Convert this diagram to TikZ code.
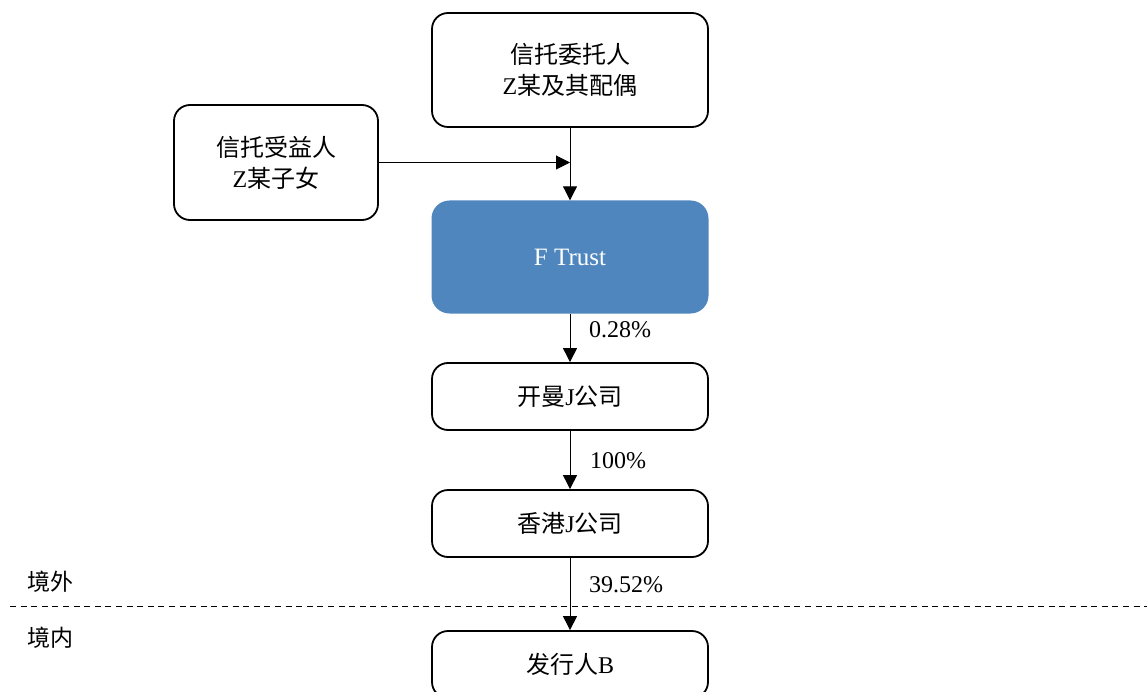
\documentclass[tikz,border=0pt]{standalone}
\usepackage{fontspec}
\setmainfont{Liberation Serif}
\newfontfamily\cjk{Noto Sans CJK SC}
\usetikzlibrary{arrows.meta}
\definecolor{trustblue}{RGB}{79,134,190}
\newcommand\zh[1]{{\cjk #1}}
\begin{document}
\begin{tikzpicture}[x=1pt,y=-1pt,
  box/.style={draw=black,line width=1.8pt,rounded corners=16pt,minimum width=276pt,
    align=center,inner sep=0pt,font=\fontsize{24}{31}\selectfont},
  trust/.style={fill=trustblue,draw=none,rounded corners=18pt,minimum width=277pt,minimum height=113pt,
    inner sep=0pt,text=white,font=\fontsize{25}{30}\selectfont},
  conn/.style={line width=1pt,-{Triangle[length=14pt,width=14pt]}},
  pct/.style={anchor=west,inner sep=0pt,font=\fontsize{24}{30}\selectfont},
  region/.style={anchor=west,inner sep=0pt,font=\fontsize{23}{28}\selectfont}]
\useasboundingbox (0,0) rectangle (1147,692);
\node[box,minimum height=114pt] (settlor) at (570,70) {\zh{信托委托人}\\Z\zh{某及其配偶}};
\node[box,minimum width=204pt,minimum height=115pt] (benef) at (276,162.5) {\zh{信托受益人}\\Z\zh{某子女}};
\node[trust] (trust) at (570,257) {F Trust};
\node[box,minimum height=67pt] (cayman) at (570,396.5) {\zh{开曼}J\zh{公司}};
\node[box,minimum height=67pt] (hk) at (570,523.5) {\zh{香港}J\zh{公司}};
\node[box,minimum height=67pt] (issuer) at (570,664.5) {\zh{发行人}B};
\coordinate (join) at (570,162.5);
\draw[conn] (settlor.south) -- (trust.north);
\draw[conn] (benef.east) -- (join);
\draw[conn] (trust.south) -- (cayman.north);
\draw[conn] (cayman.south) -- (hk.north);
\draw[conn] (hk.south) -- (issuer.north);
\node[pct] (p1) at (589,330) {0.28\%};
\node[pct] (p2) at (590,461) {100\%};
\node[pct] (p3) at (589,585) {39.52\%};
\coordinate (dl) at (10,606);
\coordinate (dr) at (1147,606);
\draw[line width=1pt,dash pattern=on 6pt off 4.6pt] (dl) -- (dr);
\node[region] (out) at (27,582) {\zh{境外}};
\node[region] (in) at (27,638) {\zh{境内}};
\end{tikzpicture}
\end{document}
